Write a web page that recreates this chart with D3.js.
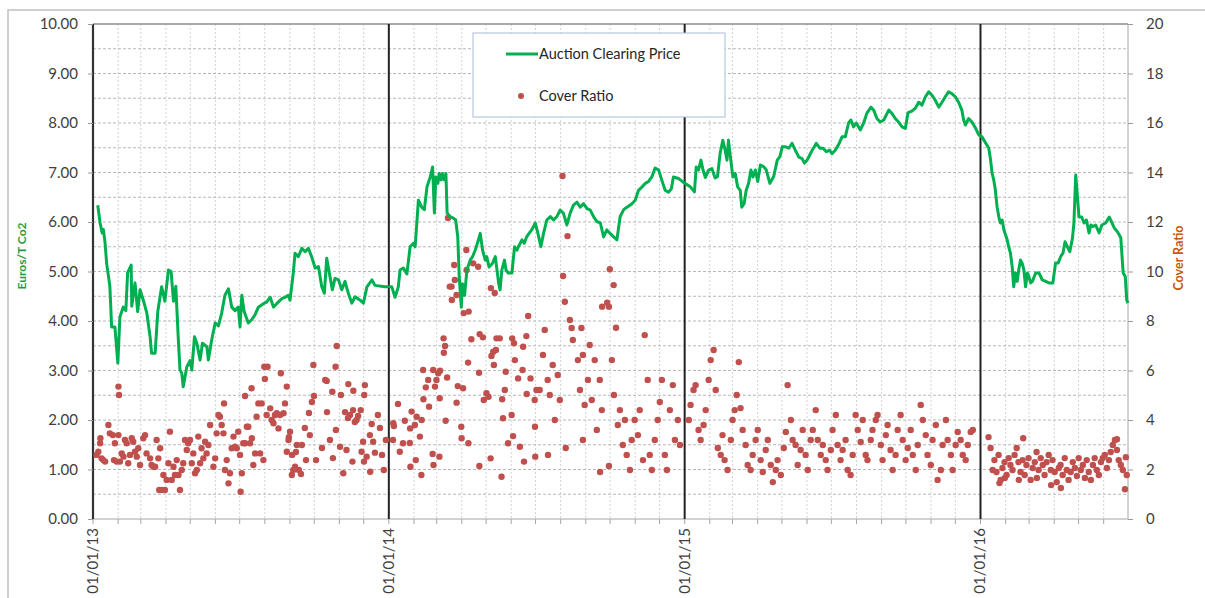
<!DOCTYPE html>
<html><head><meta charset="utf-8">
<script src="https://cdn.jsdelivr.net/npm/d3@7"></script>
<style>body{margin:0;background:#fff;} svg{display:block;font-family:Lato,"Open Sans",sans-serif;}</style>
</head><body><svg id="c" width="1205" height="598"></svg>
<script>
// ---- DATA (x as decimal year) ----
const priceYear = [2013.016,2013.019,2013.024,2013.031,2013.035,2013.041,2013.046,2013.054,2013.057,2013.063,2013.074,2013.084,2013.091,2013.102,2013.111,2013.117,2013.129,2013.131,2013.142,2013.151,2013.159,2013.170,2013.182,2013.193,2013.198,2013.210,2013.219,2013.232,2013.243,2013.255,2013.264,2013.272,2013.280,2013.288,2013.294,2013.300,2013.305,2013.317,2013.328,2013.334,2013.343,2013.351,2013.362,2013.370,2013.385,2013.390,2013.401,2013.413,2013.424,2013.435,2013.446,2013.458,2013.469,2013.480,2013.491,2013.497,2013.503,2013.511,2013.525,2013.537,2013.548,2013.559,2013.576,2013.587,2013.599,2013.610,2013.621,2013.638,2013.650,2013.660,2013.666,2013.677,2013.683,2013.694,2013.706,2013.717,2013.728,2013.739,2013.751,2013.762,2013.773,2013.782,2013.790,2013.801,2013.809,2013.818,2013.830,2013.841,2013.852,2013.863,2013.875,2013.886,2013.903,2013.914,2013.926,2013.943,2013.953,2013.987,
2014.010,2014.021,2014.032,2014.038,2014.049,2014.061,2014.072,2014.083,2014.089,2014.100,2014.111,2014.120,2014.129,2014.140,2014.148,2014.154,2014.159,2014.166,2014.170,2014.177,2014.181,2014.188,2014.193,2014.197,2014.207,2014.218,2014.226,2014.233,2014.238,2014.245,2014.249,2014.256,2014.264,2014.275,2014.283,2014.292,2014.303,2014.309,2014.317,2014.326,2014.331,2014.339,2014.350,2014.360,2014.371,2014.376,2014.382,2014.391,2014.396,2014.404,2014.416,2014.425,2014.433,2014.438,2014.450,2014.458,2014.466,2014.474,2014.483,2014.495,2014.504,2014.514,2014.523,2014.534,2014.546,2014.557,2014.568,2014.579,2014.590,2014.602,2014.613,2014.624,2014.636,2014.647,2014.658,2014.670,2014.681,2014.692,2014.703,2014.715,2014.726,2014.737,2014.748,2014.760,2014.771,2014.782,2014.794,2014.805,2014.822,2014.833,2014.844,2014.856,2014.867,2014.878,2014.889,2014.900,2014.912,2014.923,2014.934,2014.945,2014.955,2014.962,2014.979,2014.996,
2015.002,2015.019,2015.033,2015.039,2015.047,2015.055,2015.062,2015.070,2015.081,2015.092,2015.103,2015.111,2015.120,2015.129,2015.137,2015.143,2015.148,2015.156,2015.163,2015.171,2015.179,2015.188,2015.193,2015.201,2015.208,2015.216,2015.224,2015.231,2015.239,2015.247,2015.256,2015.267,2015.276,2015.288,2015.301,2015.313,2015.322,2015.330,2015.341,2015.352,2015.363,2015.374,2015.386,2015.397,2015.405,2015.414,2015.431,2015.445,2015.457,2015.468,2015.479,2015.490,2015.498,2015.509,2015.520,2015.532,2015.543,2015.554,2015.562,2015.571,2015.580,2015.594,2015.605,2015.616,2015.630,2015.639,2015.650,2015.661,2015.673,2015.690,2015.701,2015.712,2015.723,2015.735,2015.746,2015.755,2015.768,2015.780,2015.791,2015.802,2015.814,2015.825,2015.836,2015.847,2015.859,2015.870,2015.881,2015.892,2015.904,2015.915,2015.926,2015.937,2015.943,2015.949,2015.960,2015.971,2015.983,2015.994,
2016.005,2016.028,2016.034,2016.039,2016.045,2016.050,2016.056,2016.062,2016.067,2016.073,2016.079,2016.090,2016.095,2016.101,2016.107,2016.112,2016.118,2016.124,2016.129,2016.135,2016.141,2016.146,2016.152,2016.158,2016.163,2016.169,2016.175,2016.186,2016.197,2016.203,2016.208,2016.220,2016.231,2016.244,2016.253,2016.262,2016.270,2016.278,2016.285,2016.293,2016.301,2016.310,2016.315,2016.321,2016.327,2016.332,2016.341,2016.349,2016.357,2016.366,2016.372,2016.379,2016.388,2016.400,2016.409,2016.422,2016.434,2016.439,2016.451,2016.462,2016.473,2016.481,2016.488,2016.493,2016.497];
const priceValue = [6.34,6.21,5.98,5.78,5.85,5.57,5.17,4.83,4.70,3.88,3.88,3.15,4.08,4.28,4.21,4.97,5.13,4.30,4.77,4.19,4.63,4.42,4.16,3.68,3.35,3.35,4.19,4.69,4.40,5.03,5.00,4.40,4.70,3.68,3.01,2.95,2.67,3.07,3.20,3.01,3.68,3.55,3.21,3.55,3.48,3.21,3.61,3.96,3.90,4.16,4.52,4.65,4.28,4.21,4.28,3.88,4.52,4.19,3.96,4.03,4.13,4.28,4.35,4.38,4.48,4.28,4.35,4.45,4.48,4.52,4.42,4.97,5.37,5.30,5.47,5.40,5.47,5.30,5.07,5.10,4.70,4.56,5.27,4.90,4.63,4.86,4.83,4.63,4.80,4.56,4.36,4.49,4.42,4.36,4.69,4.83,4.72,4.69,
4.69,4.48,4.69,5.03,5.07,4.95,5.50,5.57,5.50,6.44,6.30,6.25,6.71,6.91,7.11,6.18,6.91,6.78,6.98,6.85,6.98,6.85,6.98,6.18,6.11,6.08,6.04,5.70,4.89,4.28,4.75,4.52,5.03,5.23,5.30,5.43,5.64,5.77,5.43,5.23,5.30,5.09,5.16,5.30,4.77,4.63,5.03,5.23,5.03,4.97,4.97,5.50,5.43,5.50,5.64,5.57,5.70,5.77,5.84,5.98,5.77,5.50,5.77,6.04,6.11,6.04,6.11,6.24,6.18,5.94,6.18,6.34,6.40,6.30,6.37,6.27,6.24,6.11,6.01,5.98,5.70,5.84,5.77,5.70,5.64,6.11,6.25,6.30,6.37,6.44,6.64,6.71,6.78,6.82,6.91,7.09,7.05,6.84,6.64,6.60,6.67,6.91,6.88,6.80,
6.78,6.71,6.61,7.11,7.05,7.25,7.05,6.90,7.05,7.08,6.89,6.92,7.39,7.65,7.45,7.25,7.65,7.25,6.91,6.98,6.71,6.64,6.30,6.37,6.64,6.78,7.05,6.91,7.05,6.82,7.15,7.12,7.05,6.78,6.92,7.25,7.32,7.52,7.52,7.49,7.59,7.45,7.31,7.28,7.19,7.25,7.45,7.59,7.49,7.49,7.42,7.45,7.38,7.45,7.56,7.72,7.72,8.00,8.06,7.92,8.00,7.86,8.00,8.20,8.32,8.26,8.09,8.02,8.06,8.26,8.19,8.09,8.02,7.92,7.89,8.21,8.24,8.30,8.42,8.36,8.53,8.63,8.56,8.46,8.32,8.42,8.53,8.63,8.59,8.53,8.42,8.26,8.06,7.96,8.09,8.02,7.90,7.76,
7.72,7.49,7.25,6.99,6.84,6.65,6.30,6.10,5.98,6.04,5.84,5.64,5.50,5.37,5.09,4.69,4.97,4.80,5.04,5.23,5.16,5.04,4.69,4.97,4.90,4.77,4.80,4.97,4.97,4.90,4.83,4.80,4.77,4.77,5.17,5.17,5.30,5.37,5.60,5.50,5.40,5.67,5.98,6.95,6.50,6.10,6.10,5.98,6.04,5.78,5.94,5.91,5.94,5.78,5.94,5.98,6.10,6.04,5.88,5.80,5.68,4.97,4.90,4.42,4.36];

// cover ratio (right axis)
const coverYear = [
// 2013
2013.012,2013.018,2013.024,2013.025,2013.029,2013.035,2013.041,2013.052,2013.057,2013.067,2013.071,2013.074,2013.080,2013.086,2013.091,2013.097,2013.103,2013.108,2013.114,2013.119,2013.125,2013.131,2013.136,2013.142,2013.148,2013.153,2013.159,2013.170,2013.176,2013.181,2013.193,2013.198,2013.204,2013.210,2013.215,2013.221,2013.224,2013.227,2013.232,2013.238,2013.243,2013.249,2013.255,2013.260,2013.266,2013.272,2013.277,2013.283,2013.289,2013.294,2013.300,2013.305,2013.311,2013.317,2013.322,2013.328,2013.334,2013.339,2013.345,2013.351,2013.356,2013.362,2013.367,2013.373,2013.379,2013.384,2013.390,2013.396,2013.407,2013.413,2013.418,2013.424,2013.429,2013.435,2013.441,2013.443,2013.446,2013.452,2013.458,2013.463,2013.469,2013.475,2013.480,2013.486,2013.491,2013.497,2013.499,2013.503,2013.508,2013.514,2013.520,2013.525,2013.531,2013.537,2013.542,2013.548,2013.553,2013.559,2013.565,2013.570,2013.576,2013.587,2013.599,2013.604,2013.610,2013.615,2013.621,2013.627,2013.632,2013.644,2013.649,2013.655,2013.661,2013.666,2013.672,2013.677,2013.683,2013.689,
2013.086,2013.088,2013.514,2013.536,2013.579,2013.590,2013.581,2013.635,2013.655,
2013.662,2013.673,2013.686,2013.696,2013.703,2013.706,2013.716,2013.720,2013.730,2013.733,2013.740,2013.747,2013.754,2013.774,2013.791,2013.801,2013.811,2013.821,
2013.745,2013.785,2013.790,2013.809,2013.824,2013.820,2013.838,2013.863,2013.880,2013.919,2013.917,
2013.869,2013.891,2013.905,2013.942,2013.936,2013.947,2013.953,2013.913,2013.908,2013.877,2013.937,2013.846,2013.835,2013.857,2013.916,2013.925,2013.852,2013.862,2013.879,2013.896,2013.885,2013.963,2013.970,2013.977,2013.983,2013.990,
// 2014
2014.015,2014.017,2014.031,2014.014,2014.037,2014.048,2014.071,2014.054,2014.072,2014.077,2014.088,2014.094,2014.105,2014.111,2014.073,2014.091,2014.110,2014.116,2014.117,2014.125,2014.133,2014.136,2014.150,2014.148,2014.151,2014.171,2014.156,2014.161,2014.167,2014.172,2014.173,2014.185,2014.190,2014.186,2014.197,2014.192,2014.233,2014.251,2014.229,2014.245,2014.246,2014.269,2014.279,2014.268,2014.305,2014.307,2014.318,2014.306,2014.321,2014.330,2014.337,2014.344,2014.353,2014.362,2014.355,2014.347,2014.364,2014.375,2014.383,2014.392,2014.386,2014.381,2014.395,2014.403,2014.417,2014.423,2014.426,2014.420,2014.415,2014.437,2014.454,2014.452,2014.471,2014.465,2014.466,2014.479,2014.493,2014.494,2014.499,2014.443,2014.457,2014.495,
2014.200,2014.262,2014.221,2014.285,2014.302,2014.263,2014.206,2014.212,2014.223,2014.229,2014.213,2014.253,2014.270,2014.345,2014.358,2014.587,2014.604,2014.589,2014.595,2014.612,2014.747,2014.760,2014.738,2014.744,2014.721,2014.768,2014.651,2014.618,
2014.510,2014.521,2014.527,2014.537,2014.544,2014.554,2014.561,2014.571,2014.578,2014.622,2014.639,2014.646,2014.656,2014.662,2014.673,2014.679,2014.686,2014.696,2014.703,2014.713,2014.720,2014.754,2014.761,2014.774,2014.781,2014.791,2014.798,2014.804,2014.815,2014.821,2014.831,2014.842,2014.848,2014.859,2014.865,2014.875,2014.882,2014.889,2014.899,2014.909,2014.916,2014.923,2014.933,2014.940,2014.950,2014.960,2014.967,2014.977,2014.984,2014.538,2014.598,2014.656,2014.714,2014.744,
// 2015
2015.014,2015.020,2015.030,2015.037,2015.047,2015.054,2015.064,2015.071,2015.081,2015.088,2015.098,2015.105,2015.112,2015.122,2015.128,2015.135,2015.145,2015.156,2015.162,2015.169,2015.176,2015.183,2015.189,2015.196,2015.206,2015.213,2015.223,2015.230,2015.240,2015.247,2015.257,2015.264,2015.274,2015.281,2015.291,2015.298,2015.308,2015.314,2015.325,2015.335,2015.342,2015.348,2015.359,2015.365,2015.375,2015.382,2015.392,2015.399,2015.409,2015.416,2015.426,2015.433,2015.443,2015.450,2015.460,2015.467,2015.477,2015.483,2015.494,2015.500,2015.511,2015.517,2015.527,2015.534,2015.544,2015.551,2015.561,2015.568,2015.578,2015.585,2015.595,2015.602,2015.612,2015.618,2015.629,2015.635,2015.646,2015.652,2015.663,2015.669,2015.680,2015.686,2015.696,2015.703,2015.713,2015.720,2015.730,2015.737,2015.747,2015.754,2015.764,2015.771,2015.781,2015.788,2015.798,2015.805,2015.815,2015.821,2015.832,2015.838,2015.849,2015.855,2015.866,2015.872,2015.883,2015.889,2015.900,2015.906,2015.916,2015.923,2015.933,2015.940,2015.950,2015.957,2015.967,2015.974,
// 2016
2016.027,2016.034,2016.041,2016.047,2016.054,2016.061,2016.068,2016.074,2016.081,2016.088,2016.095,2016.101,2016.108,2016.115,2016.122,2016.128,2016.135,2016.142,2016.149,2016.155,2016.162,2016.169,2016.176,2016.183,2016.189,2016.196,2016.203,2016.210,2016.216,2016.223,2016.230,2016.237,2016.243,2016.250,2016.257,2016.264,2016.270,2016.277,2016.284,2016.291,2016.297,2016.304,2016.311,2016.318,2016.325,2016.331,2016.338,2016.345,2016.352,2016.358,2016.365,2016.372,2016.379,2016.385,2016.392,2016.399,2016.406,2016.412,2016.419,2016.426,2016.433,2016.439,2016.446,2016.453,2016.460,2016.466,2016.473,2016.480,2016.487,2016.493,2016.082,2016.190,2016.271,2016.129,2016.238,2016.144,2016.064,2016.460,2016.490];
const coverValue = [
// 2013
2.59,2.72,3.06,3.26,2.45,2.38,2.32,3.80,3.46,3.39,2.38,3.06,2.32,3.39,2.32,2.65,2.52,3.19,3.06,2.25,2.59,3.26,3.12,2.72,2.52,2.86,2.18,3.26,3.39,2.65,2.45,2.18,2.11,2.11,3.19,2.45,1.17,2.86,1.17,1.78,1.17,1.58,2.25,3.53,1.58,2.11,1.78,2.38,1.78,1.17,1.98,2.25,3.19,2.79,3.06,3.19,2.25,2.65,1.85,1.98,3.33,2.25,2.86,2.45,3.12,2.65,2.99,3.80,2.11,2.45,3.46,4.20,4.13,3.80,3.46,4.67,1.98,2.38,1.44,1.85,2.86,3.33,2.92,2.86,3.53,2.59,1.10,1.85,3.06,3.06,3.73,3.73,3.06,3.26,2.18,2.65,4.13,4.67,2.65,4.67,2.38,4.20,4.47,4.00,3.87,4.20,4.27,3.66,4.20,4.27,4.67,2.72,3.19,3.53,1.78,1.98,2.11,2.99,
5.35,5.01,4.97,5.28,6.15,6.15,5.66,5.89,5.35,
3.31,2.59,2.71,1.98,1.82,2.99,3.68,2.38,4.28,3.39,4.73,4.97,2.38,2.87,4.32,3.19,2.46,3.60,
6.22,5.62,5.58,5.14,6.99,6.15,5.01,5.45,5.18,5.41,5.01,
4.20,4.00,4.40,3.84,3.39,3.12,2.68,3.12,2.72,2.32,1.91,1.85,2.92,2.79,2.32,2.52,4.32,4.08,4.40,4.16,3.92,4.20,3.68,2.59,1.98,3.19,
// 2014
3.87,3.76,4.65,3.19,2.72,3.06,3.07,3.97,3.66,4.34,3.80,4.13,3.33,4.00,2.11,2.38,1.78,6.02,4.84,5.32,5.62,4.54,6.02,2.63,2.18,2.52,5.35,5.62,5.89,4.88,5.99,7.30,6.99,6.72,5.72,3.97,5.37,5.28,4.70,3.73,3.26,3.06,7.26,6.32,5.91,7.47,7.34,2.14,4.81,5.08,4.94,2.45,6.76,6.83,6.22,6.59,7.30,7.30,4.84,5.21,4.07,1.71,5.95,3.06,7.30,7.10,6.42,3.35,4.20,5.68,6.96,6.02,8.20,7.39,5.05,5.68,4.81,3.73,5.21,2.92,2.32,2.52,
12.16,10.87,10.26,10.33,10.19,10.06,9.39,9.39,9.66,9.05,8.85,8.32,8.38,9.33,9.13,13.86,11.43,9.82,8.78,8.04,10.09,9.45,8.74,8.58,8.58,7.73,7.72,7.72,
5.21,6.63,7.64,5.62,5.01,6.22,4.00,5.82,4.81,7.23,6.42,5.21,6.63,4.61,5.62,7.03,4.81,6.42,3.60,5.62,4.40,6.42,5.01,3.80,4.40,2.99,4.00,2.59,1.98,3.19,4.00,3.39,4.40,2.38,7.43,5.62,2.59,1.98,3.19,4.00,4.73,5.62,2.59,1.98,4.40,5.41,3.19,4.00,2.99,2.59,2.87,3.19,1.90,2.14,
// 2015
4.00,4.61,5.21,5.41,3.60,3.19,3.80,4.40,5.62,6.42,6.83,5.21,2.87,2.59,3.39,2.38,1.98,3.19,4.00,4.40,5.01,6.34,4.48,3.60,2.99,2.18,1.98,2.59,3.19,3.60,2.38,1.90,2.79,3.19,2.18,1.49,1.98,2.38,1.78,2.87,3.52,5.41,4.00,3.19,2.99,2.18,2.79,3.60,2.59,1.98,3.19,3.60,4.40,3.19,2.59,2.99,2.38,1.98,2.79,3.60,4.20,2.99,2.38,2.79,3.19,1.98,1.78,2.59,4.20,3.60,3.11,4.00,2.59,2.38,3.19,3.60,4.00,4.20,2.99,2.38,3.39,3.80,2.79,1.98,2.59,3.60,4.20,3.19,2.38,2.87,3.60,2.59,1.98,2.99,4.61,4.00,3.39,2.59,2.18,3.19,3.80,1.58,1.98,2.99,4.00,3.19,2.59,1.98,2.99,3.52,3.19,2.59,2.38,2.99,3.52,3.60,
// 2016
3.31,2.87,1.98,2.38,1.90,2.59,1.58,2.06,2.30,1.78,2.46,2.18,1.98,2.59,2.87,2.30,1.90,2.38,1.78,2.18,2.46,1.58,2.06,2.30,2.71,1.98,2.46,2.18,1.78,2.30,2.59,1.98,2.38,1.90,1.49,2.06,2.18,1.78,2.46,1.98,1.58,1.90,2.30,2.06,1.74,2.46,1.98,2.18,1.66,2.38,1.90,1.58,2.18,2.46,1.98,1.78,2.30,2.46,2.59,2.06,2.38,2.71,2.99,3.19,2.79,2.38,2.18,1.98,1.20,1.78,1.66,1.66,1.25,1.58,1.37,3.26,1.45,3.22,2.50];

const leftTicks = [0,1,2,3,4,5,6,7,8,9,10];
const rightTicks = [0,2,4,6,8,10,12,14,16,18,20];
const yearTicks = ["2013-01-01","2014-01-01","2015-01-01","2016-01-01"];

// ---- LAYOUT ----
const L = 93, R = 1128, T = 24, B = 519;
const svg = d3.select("#c");
const toDate = y => { const yr = Math.floor(y), s = new Date(yr,0,1), e = new Date(yr+1,0,1); return new Date(+s + (y-yr)*(e-s)); };
const x = d3.scaleTime().domain([new Date(2013,0,1), new Date(2016,6,1)]).range([L, R]);
const yL = d3.scaleLinear().domain([0,10]).range([B, T]);
const yR = d3.scaleLinear().domain([0,20]).range([B, T]);

svg.append("rect").attr("x",8).attr("y",10).attr("width",1220).attr("height",620).attr("fill","none").attr("stroke","#c0c0c0").attr("stroke-width",1.5);

const months = d3.timeMonth.range(new Date(2013,0,1), new Date(2016,6,1));
svg.append("g").selectAll("line").data(months.slice(1)).join("line")
  .attr("x1",d=>x(d)).attr("x2",d=>x(d)).attr("y1",T).attr("y2",B)
  .attr("stroke","#d4d4d4").attr("stroke-width",1).attr("stroke-dasharray","2,2");
svg.append("g").selectAll("line").data(d3.range(0.5,10,0.5)).join("line")
  .attr("x1",L).attr("x2",R).attr("y1",d=>yL(d)).attr("y2",d=>yL(d))
  .attr("stroke","#b8b8b8").attr("stroke-width",1).attr("stroke-dasharray","3,2");
svg.append("line").attr("x1",L).attr("x2",R).attr("y1",T).attr("y2",T).attr("stroke","#8c8c8c").attr("stroke-width",1.5);
svg.append("line").attr("x1",R).attr("x2",R).attr("y1",T).attr("y2",B).attr("stroke","#a6a6a6").attr("stroke-width",1);
svg.append("line").attr("x1",L).attr("x2",R).attr("y1",B).attr("y2",B).attr("stroke","#a6a6a6").attr("stroke-width",1.2);
svg.append("g").selectAll("line").data(months).join("line")
  .attr("x1",d=>x(d)).attr("x2",d=>x(d)).attr("y1",B).attr("y2",B+5).attr("stroke","#a6a6a6");

svg.append("g").selectAll("line").data(yearTicks.slice(1)).join("line")
  .attr("x1",d=>x(new Date(d))).attr("x2",d=>x(new Date(d))).attr("y1",T).attr("y2",B)
  .attr("stroke","#222").attr("stroke-width",2);

svg.append("line").attr("x1",L).attr("x2",L).attr("y1",T).attr("y2",B).attr("stroke","#333").attr("stroke-width",2.2);
const gl = svg.append("g").attr("transform",`translate(${L},0)`)
  .call(d3.axisLeft(yL).tickValues(leftTicks).tickFormat(d3.format(".2f")).tickSize(5).tickPadding(10));
gl.select(".domain").remove();
gl.selectAll("line").attr("stroke","#999");
gl.selectAll("text").attr("font-size",15).attr("fill","#404040").attr("font-family","Lato");

const gr = svg.append("g").attr("transform",`translate(${R},0)`)
  .call(d3.axisRight(yR).tickValues(rightTicks).tickSize(5).tickPadding(13));
gr.select(".domain").remove();
gr.selectAll("line").attr("stroke","#999");
gr.selectAll("text").attr("font-size",15).attr("fill","#404040").attr("font-family","Lato");

const fmt = d3.timeFormat("%d/%m/%y");
svg.append("g").selectAll("text").data(yearTicks).join("text")
  .attr("transform",d=>`translate(${x(new Date(d))+5},528) rotate(-90)`)
  .attr("text-anchor","end").attr("font-size",15).attr("fill","#404040")
  .text(d=>fmt(new Date(d)));

svg.append("text").attr("transform","translate(26,256) rotate(-90)").attr("text-anchor","middle")
  .attr("font-size",12).attr("font-weight","bold").attr("fill","#1e9e3e").text("Euros/T Co2");
svg.append("text").attr("transform","translate(1183,258) rotate(-90)").attr("text-anchor","middle")
  .attr("font-size",12.5).attr("font-weight","bold").attr("fill","#c55a11").text("Cover Ratio");

svg.append("g").selectAll("circle").data(coverYear.map((t,i)=>({d:toDate(t),v:coverValue[i]}))).join("circle")
  .attr("cx",d=>x(d.d)).attr("cy",d=>yR(d.v)).attr("r",3.2).attr("fill","#c0504d");

const line = d3.line().x(d=>x(d.d)).y(d=>yL(d.v));
svg.append("path").datum(priceYear.map((t,i)=>({d:toDate(t),v:priceValue[i]})))
  .attr("d",line).attr("fill","none").attr("stroke","#00b050").attr("stroke-width",3).attr("stroke-linejoin","round");

const lg = svg.append("g");
lg.append("rect").attr("x",473).attr("y",33).attr("width",252).attr("height",84).attr("fill","#fff").attr("stroke","#a9bcd9").attr("stroke-width",1);
lg.append("line").attr("x1",506).attr("x2",538).attr("y1",54).attr("y2",54).attr("stroke","#00b050").attr("stroke-width",3);
lg.append("text").attr("x",539).attr("y",59).attr("font-size",14.5).attr("fill","#262626").text("Auction Clearing Price");
lg.append("circle").attr("cx",521).attr("cy",96).attr("r",3).attr("fill","#c0504d");
lg.append("text").attr("x",539).attr("y",101).attr("font-size",14.5).attr("fill","#262626").text("Cover Ratio");
</script></body></html>
